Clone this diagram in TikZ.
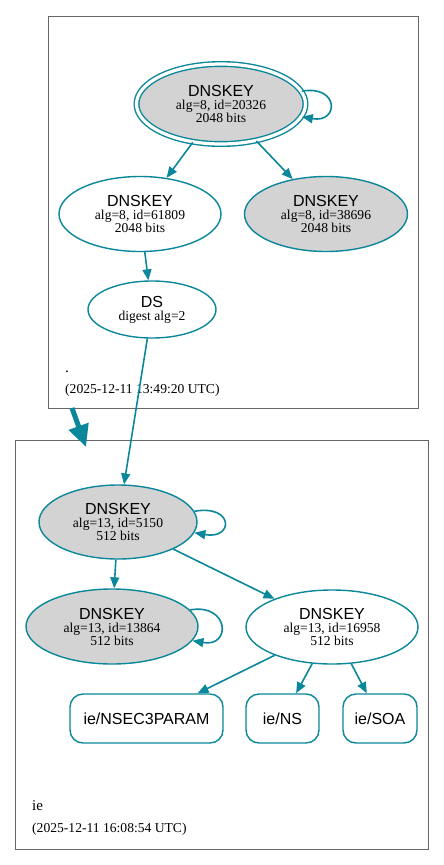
\documentclass[tikz,border=0pt]{standalone}
\usepackage{fontspec}
\setmainfont{Liberation Serif}
\setsansfont{Liberation Sans}
\usepackage{tikz}
\usetikzlibrary{arrows.meta,shapes.geometric}
\definecolor{secure}{HTML}{0A879A}
\definecolor{keygray}{HTML}{D3D3D3}
\definecolor{zonegray}{HTML}{666666}
\newcommand{\keytxt}[3]{{\sffamily\fontsize{16}{13}\selectfont #1}\\#2\\#3}
\tikzset{
  key/.style={ellipse, draw=secure, line width=1.4pt, inner sep=0pt, align=center, font=\fontsize{13.6}{13}\selectfont},
  sep/.style={key, fill=keygray},
  rrset/.style={rectangle, rounded corners=13pt, draw=secure, line width=1.4pt, minimum height=49pt, inner sep=0pt, font=\sffamily\fontsize{16}{18}\selectfont},
  zone/.style={rectangle, draw=zonegray, line width=1pt, inner sep=0pt},
  zlabel/.style={anchor=base west, inner sep=0pt},
  edge/.style={draw=secure, line width=1.6pt, -{Triangle[length=11pt,width=9pt]}},
  >=Stealth
}

\begin{document}
\begin{tikzpicture}[x=1pt, y=1pt]
  \useasboundingbox (0,0) rectangle (444,-865);
  % zones
  \node[zone, minimum width=370pt, minimum height=392pt] (rootzone) at (233,-212) {};
  \node[zone, minimum width=413pt, minimum height=409pt] (iezone) at (221.5,-644.5) {};
  \node[zlabel, font=\fontsize{15}{18}\selectfont] (rootname) at (65,-372) {.};
  \node[zlabel, font=\fontsize{13.6}{16}\selectfont] (rootdate) at (65,-393) {(2025-12-11 13:49:20 UTC)};
  \node[zlabel, font=\fontsize{15}{18}\selectfont] (iename) at (32,-810) {ie};
  \node[zlabel, font=\fontsize{13.6}{16}\selectfont] (iedate) at (32,-832) {(2025-12-11 16:08:54 UTC)};
  % root keys
  \node[sep, double=white, double distance=3.2pt, minimum width=169pt, minimum height=80pt] (ksk) at (221,-104) {\keytxt{DNSKEY}{alg=8, id=20326}{2048 bits}};
  \node[key, minimum width=162pt, minimum height=75pt] (zska) at (140,-214) {\keytxt{DNSKEY}{alg=8, id=61809}{2048 bits}};
  \node[sep, minimum width=163pt, minimum height=75pt] (zskb) at (326,-214) {\keytxt{DNSKEY}{alg=8, id=38696}{2048 bits}};
  \node[key, minimum width=128pt, minimum height=57pt] (ds) at (152,-309.5) {{\sffamily\fontsize{16}{13}\selectfont DS}\\digest alg=2};
  % ie keys
  \node[sep, minimum width=158pt, minimum height=74pt] (ieksk) at (118,-522) {\keytxt{DNSKEY}{alg=13, id=5150}{512 bits}};
  \node[sep, minimum width=172pt, minimum height=75pt] (iesep) at (112,-626.5) {\keytxt{DNSKEY}{alg=13, id=13864}{512 bits}};
  \node[key, minimum width=172pt, minimum height=74pt] (iezsk) at (332,-627) {\keytxt{DNSKEY}{alg=13, id=16958}{512 bits}};
  % rrsets
  \node[rrset, minimum width=153pt] (nsec3) at (146.5,-718.5) {ie/NSEC3PARAM};
  \node[rrset, minimum width=73pt] (ns) at (282.5,-718.5) {ie/NS};
  \node[rrset, minimum width=74pt] (soa) at (380,-718.5) {ie/SOA};
  % edges
  \draw[edge] (ksk.9) to[out=10, in=-10, looseness=3.8] (ksk.-9);
  \draw[edge] (ksk) -- (zska);
  \draw[edge] (ksk) -- (zskb);
  \draw[edge] (zska) -- (ds);
  \draw[edge] (ds) -- (ieksk);
  \draw[edge] (ieksk.8) to[out=10, in=-10, looseness=4.8] (ieksk.-8);
  \draw[edge] (iesep.12) to[out=10, in=-10, looseness=3.3] (iesep.-10);
  \draw[edge] (ieksk) -- (iesep);
  \draw[edge] (ieksk) -- (iezsk);
  \draw[edge] (iezsk) -- (nsec3);
  \draw[edge] (iezsk) -- (ns);
  \draw[edge] (iezsk) -- (soa);
  % delegation
  \coordinate (dlgfrom) at (72,-408);
  \coordinate (dlgto) at (86,-447);
  \draw[secure, line width=5pt, -{Triangle[length=22pt,width=20pt]}] (dlgfrom) -- (dlgto);
\end{tikzpicture}
\end{document}
